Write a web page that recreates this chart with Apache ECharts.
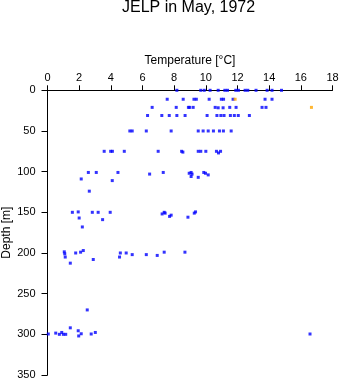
<!DOCTYPE html>
<html>
<head>
<meta charset="utf-8">
<script src="https://cdn.jsdelivr.net/npm/echarts@6/dist/echarts.min.js"></script>
<style>
  html, body { margin: 0; padding: 0; background: #ffffff; }
  #chart { width: 341px; height: 384px; }
</style>
</head>
<body>
<div id="chart"></div>
<script>
// Temperature profile samples, [temperature °C, depth m]
const surfaceLayer = [
  [8.17, 0], [9.68, 0], [9.9, 0], [10.27, 0], [10.78, 0], [11.2, 0], [11.37, 0],
  [11.89, 0], [12.06, 0], [12.48, 0], [12.65, 0], [13.17, 0], [13.87, 0], [14.18, 0], [14.78, 0]
];
const layer10 = [
  [7.56, 11], [8.57, 11], [9.25, 11], [9.4, 11], [10.21, 11], [10.98, 11], [11.12, 11],
  [11.72, 11], [13.74, 11], [14.18, 11]
];
const layer20 = [
  [6.61, 21], [8.13, 21], [8.9, 21], [8.98, 21], [9.2, 21], [10.59, 21], [10.78, 21.5],
  [11.09, 21.5], [11.51, 21], [11.91, 21], [13.55, 21], [13.8, 21]
];
const layer30 = [
  [6.32, 31], [7.22, 31], [7.69, 31], [8.17, 31], [8.69, 31], [10.08, 31], [10.7, 31],
  [10.95, 31], [11.15, 31], [11.55, 31], [11.8, 31], [12.05, 31], [12.75, 31]
];
const layer50 = [
  [5.2, 50], [5.35, 50], [6.24, 50], [7.81, 50], [9.52, 50], [9.83, 50], [10.15, 50],
  [10.48, 50], [10.86, 50], [11.11, 50], [11.6, 50]
];
const layer75 = [
  [3.58, 75], [3.99, 75], [4.1, 75], [4.85, 75], [6.99, 75], [8.47, 75], [8.55, 76],
  [9.52, 75], [9.68, 75], [10.0, 75], [10.67, 75], [10.8, 77], [10.93, 75]
];
const layer100 = [
  [2.58, 101], [3.08, 101], [4.45, 101], [6.45, 103], [7.31, 101], [8.95, 102],
  [9.07, 101], [9.13, 103], [9.07, 106], [9.87, 101], [9.98, 102], [10.15, 104],
  [9.52, 107], [2.13, 109], [4.09, 111], [2.64, 124]
];
const layer150 = [
  [1.57, 150], [1.94, 149.5], [2.83, 150], [3.2, 150], [3.96, 150], [2.0, 157],
  [3.48, 159], [2.2, 168], [7.24, 152], [7.37, 150], [7.43, 151], [7.71, 155],
  [7.81, 153.5], [8.87, 156], [9.35, 149.5], [9.27, 151]
];
const layer200 = [
  [1.06, 198.6], [1.09, 201], [1.12, 205], [1.44, 212.5], [1.78, 200], [2.09, 199],
  [2.26, 197], [2.89, 208], [4.55, 205], [4.6, 200], [4.97, 200], [5.35, 202],
  [6.24, 202], [6.93, 203], [7.37, 199], [8.68, 199], [2.51, 270]
];
const layer300 = [
  [0.05, 299.6], [0.52, 298.5], [0.75, 300], [0.9, 297.7], [1.0, 300], [1.15, 300],
  [1.44, 292], [1.94, 295.6], [1.97, 302], [2.13, 299.3], [2.76, 299.6], [3.02, 297.7],
  [16.58, 299.6]
];
// Flagged samples
const flagged = [[11.85, 11], [16.67, 21]];

const tempTicks = [0, 2, 4, 6, 8, 10, 12, 14, 16, 18];
const depthTicks = [0, 50, 100, 150, 200, 250, 300, 350];

const profile = [].concat(surfaceLayer, layer10, layer20, layer30, layer50,
  layer75, layer100, layer150, layer200, layer300);

const FONT = '"Liberation Sans", Arial, Helvetica, sans-serif';
const chart = echarts.init(document.getElementById('chart'), null, { renderer: 'canvas' });

chart.setOption({
  animation: false,
  backgroundColor: '#ffffff',
  title: {
    text: 'JELP in May, 1972',
    left: 122,
    top: 0,
    padding: 0,
    textStyle: { fontFamily: FONT, fontSize: 16, fontWeight: 'normal', color: '#000' }
  },
  grid: {
    left: 47.5, top: 90.3, right: 8.5, bottom: 9,
    containLabel: false,
    outerBoundsMode: 'none'
  },
  xAxis: {
    type: 'value',
    position: 'top',
    min: tempTicks[0],
    max: tempTicks[tempTicks.length - 1],
    interval: 2,
    name: 'Temperature [°C]',
    nameLocation: 'middle',
    nameGap: 24,
    nameMoveOverlap: false,
    nameTextStyle: { fontFamily: FONT, fontSize: 12, color: '#000' },
    axisLine: { show: true, onZero: false, lineStyle: { color: '#000', width: 1 } },
    axisTick: { show: true, length: 5, lineStyle: { color: '#000' } },
    axisLabel: { fontFamily: FONT, fontSize: 11, color: '#000', margin: 7 },
    splitLine: { show: false }
  },
  yAxis: {
    type: 'value',
    inverse: true,
    min: depthTicks[0],
    max: depthTicks[depthTicks.length - 1],
    interval: 50,
    name: 'Depth [m]',
    nameLocation: 'middle',
    nameGap: 35,
    nameMoveOverlap: false,
    nameTextStyle: { fontFamily: FONT, fontSize: 12, color: '#000' },
    axisLine: { show: true, onZero: false, lineStyle: { color: '#000', width: 1 } },
    axisTick: { show: true, length: 6, lineStyle: { color: '#000' } },
    axisLabel: { fontFamily: FONT, fontSize: 11, color: '#000', margin: 12 },
    splitLine: { show: false }
  },
  series: [
    {
      type: 'scatter',
      data: profile,
      symbol: 'rect',
      symbolSize: [3, 3],
      itemStyle: { color: '#0000ff' }
    },
    {
      type: 'scatter',
      data: flagged,
      symbol: 'rect',
      symbolSize: [3, 3],
      itemStyle: { color: '#ffa500' }
    }
  ]
});
</script>
</body>
</html>
